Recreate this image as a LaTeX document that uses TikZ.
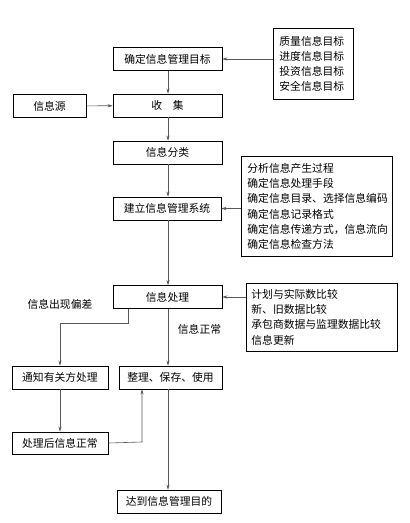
\documentclass[tikz,border=0pt]{standalone}
\usepackage{fontspec}
\setmainfont{Noto Sans CJK SC}
\usetikzlibrary{arrows.meta}
\tikzset{
  stepbox/.style={draw=black,line width=0.8pt,minimum height=23pt,inner sep=0pt,
    font=\fontsize{10.8}{15}\selectfont},
  notebox/.style={draw=black,line width=0.8pt,align=left,anchor=north west,
    inner sep=6pt,font=\fontsize{10.8}{15.2}\selectfont},
  flow/.style={draw=black!65,line width=0.6pt,-{Stealth[length=5pt,width=3.2pt]}},
  tag/.style={font=\fontsize{10.8}{15}\selectfont,inner sep=0pt}
}
\begin{document}
\begin{tikzpicture}[x=1pt,y=1pt,yscale=-1]
  \useasboundingbox (0,0) rectangle (410,523);
  % main column
  \node[stepbox,minimum width=109pt] (target) at (167.5,59) {确定信息管理目标};
  \node[stepbox,minimum width=109pt] (collect) at (167.5,105.5) {收\hspace{1em}集};
  \node[stepbox,minimum width=73pt] (source) at (49.5,106) {信息源};
  \node[stepbox,minimum width=109pt] (classify) at (167.5,152.5) {信息分类};
  \node[stepbox,minimum width=108pt] (system) at (167,208.5) {建立信息管理系统};
  \node[stepbox,minimum width=109pt] (proc) at (167.5,297) {信息处理};
  \node[stepbox,minimum width=96pt] (notify) at (60,377.5) {通知有关方处理};
  \node[stepbox,minimum width=103pt] (arrange) at (170.5,377.5) {整理、保存、使用};
  \node[stepbox,minimum width=96pt,minimum height=22pt] (after) at (60,443) {处理后信息正常};
  \node[stepbox,minimum width=104pt] (goal) at (169,501.5) {达到信息管理目的};
  % side notes
  \node[notebox,text width=68pt,minimum height=71pt] (goalnote) at (273,28)
    {质量信息目标\\进度信息目标\\投资信息目标\\安全信息目标};
  \node[notebox,text width=139pt,minimum height=100pt] (sysnote) at (241,156)
    {分析信息产生过程\\确定信息处理手段\\确定信息目录、选择信息编码\\确定信息记录格式\\
     确定信息传递方式，信息流向\\确定信息检查方法};
  \node[notebox,text width=141pt,minimum height=67pt,inner xsep=5pt] (procnote) at (246,283)
    {计划与实际数比较\\新、旧数据比较\\承包商数据与监理数据比较\\信息更新};
  % branch labels
  \node[tag] (devtag) at (60,304) {信息出现偏差};
  \node[tag] (oktag) at (199.5,329) {信息正常};
  \coordinate (dev) at (128,323);
  \coordinate (back) at (142,442);
  % connectors
  \draw[flow] (target.south -| 168,0) -- (collect.north -| 168,0);
  \draw[flow] (source) -- (collect);
  \draw[flow] (collect.south -| 168,0) -- (classify.north -| 168,0);
  \draw[flow] (classify.south -| 168,0) -- (system.north -| 168,0);
  \draw[flow] (system.south -| 168,0) -- (proc.north -| 168,0);
  \draw[flow] (goalnote.west |- target.east) -- (target.east);
  \draw[flow] (sysnote.west |- system.east) -- (system.east);
  \draw[flow] (procnote.west |- proc.east) -- (proc.east);
  \draw[flow] (proc.south -| dev) -- (dev) -| (notify.north);
  \draw[flow] (proc.south -| 168,0) -- (arrange.north -| 168,0);
  \draw[flow] (notify) -- (after);
  \draw[flow] (after.east) -- (back) -- (arrange.south -| back);
  \draw[flow] (arrange.south -| 168,0) -- (goal.north -| 168,0);
\end{tikzpicture}
\end{document}
